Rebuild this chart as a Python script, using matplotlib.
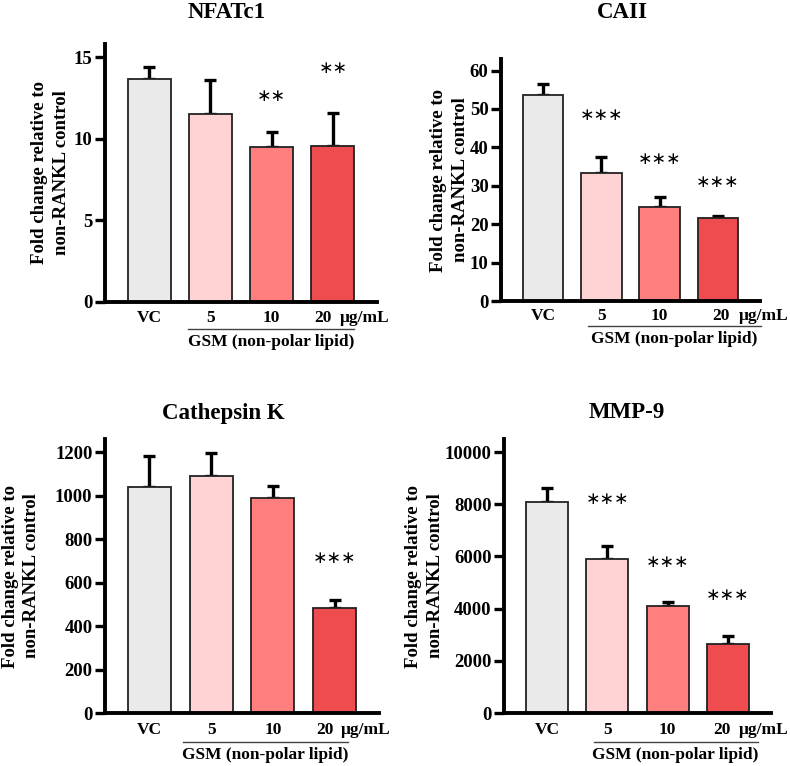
import matplotlib
matplotlib.use("Agg")
import matplotlib.pyplot as plt

plt.rcParams['font.family'] = ['Liberation Serif', 'DejaVu Serif']
plt.rcParams['font.weight'] = 'bold'

categories = ['VC', '5', '10', '20']
unit_label = 'μg/mL'
group_label = 'GSM (non-polar lipid)'
ylabel = 'Fold change relative to\nnon-RANKL control'
colors = ['#eaeaea', '#ffd3d4', '#ff7f7f', '#ee4c4e']

titles = ['NFATc1', 'CAII', 'Cathepsin K', 'MMP-9']
means = [
    [13.65, 11.5, 9.47, 9.55],
    [53.6, 33.4, 24.4, 21.5],
    [1039, 1091, 987, 484],
    [8090, 5890, 4090, 2640],
]
errors = [
    [0.75, 2.1, 0.93, 2.05],
    [2.9, 4.2, 2.6, 0.6],
    [141, 104, 58, 37],
    [530, 495, 150, 300],
]
stars = [
    ['', '', '**', '**'],
    ['', '***', '***', '***'],
    ['', '', '', '***'],
    ['', '***', '***', '***'],
]
star_y = [
    [0, 0, 12.6, 14.3],
    [0, 48.4, 36.9, 31.0],
    [0, 0, 0, 713],
    [0, 8210, 5770, 4530],
]
yticks = [
    [0, 5, 10, 15],
    [0, 10, 20, 30, 40, 50, 60],
    [0, 200, 400, 600, 800, 1000, 1200],
    [0, 2000, 4000, 6000, 8000, 10000],
]
ymax = [15.8, 63, 1260, 10500]

W, H = 790, 766
fig = plt.figure(figsize=(W / 100, H / 100), dpi=100)

# layout (pixels): axes box left, right, top, bottom
boxes = [
    (105, 377, 44, 302),
    (501, 760, 59, 301),
    (105, 379, 439, 713),
    (504, 771, 439, 713),
]
title_pos = [(227, 13), (622, 13), (223, 413), (627, 413)]
last_tick_x = [2.83, 3.05, 2.84, 2.9]
unit_x = [3.12, 3.36, 3.1, 3.18]
line_x = [(0.64, 3.34), (0.77, 3.74), (0.55, 3.21), (0.77, 3.5)]
ylabel_x = [-0.13, -0.125, -0.237, -0.225]

for i in range(4):
    l, r, t, b = boxes[i]
    ax = fig.add_axes([l / W, (H - b) / H, (r - l) / W, (b - t) / H])
    x = list(range(len(categories)))
    ax.bar(x, means[i], width=0.7, color=colors, edgecolor='#222222',
           linewidth=1.3, zorder=2)
    ax.errorbar(x, means[i], yerr=[[0] * 4, errors[i]], fmt='none',
                ecolor='black', elinewidth=2.4, capsize=4.5, capthick=2.4,
                zorder=1)
    for xi, s, sy in zip(x, stars[i], star_y[i]):
        if s:
            ax.text(xi, sy, s.replace('*', '∗'), ha='center', va='center',
                    fontsize=12.5, fontweight='normal',
                    family=['DejaVu Sans'])
    ax.set_xlim(-0.72, 3.72)
    ax.set_ylim(0, ymax[i])
    ax.set_yticks(yticks[i])
    ax.set_yticklabels([str(v) for v in yticks[i]], fontsize=13.5,
                       fontweight='bold')
    ax.set_xticks([])
    ax.tick_params(axis='y', length=7, width=2.4, pad=2)
    for side in ['top', 'right']:
        ax.spines[side].set_visible(False)
    ax.spines['left'].set_linewidth(2.8)
    ax.spines['bottom'].set_linewidth(2.8)
    ax.set_ylabel(ylabel, fontsize=13.5, fontweight='bold',
                  linespacing=1.35)
    ax.yaxis.set_label_coords(ylabel_x[i], 0.5)
    xt = ax.get_xaxis_transform()
    # category labels and unit label
    xs = [0, 1, 2, last_tick_x[i]]
    for xi, c in zip(xs, categories):
        ax.text(xi, -0.062, c, transform=xt, ha='center', va='center',
                fontsize=12.5, fontweight='bold')
    ax.text(unit_x[i], -0.062, unit_label, transform=xt,
            ha='left', va='center', fontsize=12.5, fontweight='bold')
    # group line and label
    ax.plot(line_x[i], [-0.105, -0.105], transform=xt,
            color='#444444', lw=1.0, clip_on=False)
    ax.text(sum(line_x[i]) / 2, -0.155, group_label, transform=xt,
            ha='center', va='center', fontsize=12.5, fontweight='bold')
    tx, ty = title_pos[i]
    fig.text(tx / W, (H - ty) / H, titles[i], ha='center', va='center',
             fontsize=16.5, fontweight='bold')

fig.savefig('out.png', dpi=100, facecolor='white')
